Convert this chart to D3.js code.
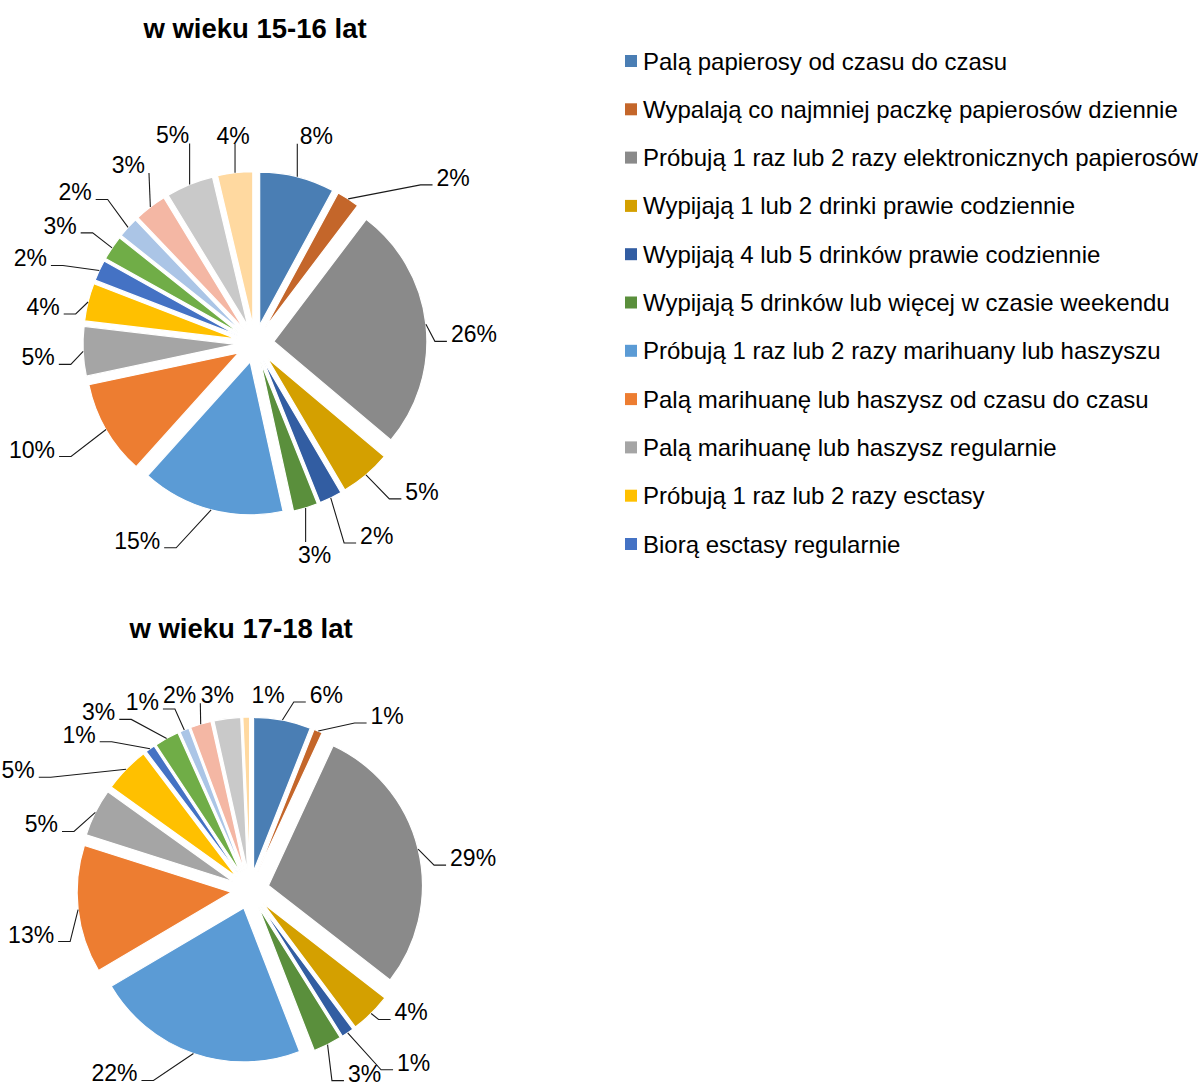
<!DOCTYPE html>
<html><head><meta charset="utf-8">
<script src="https://cdn.jsdelivr.net/npm/d3@7"></script>
<style>
body{margin:0;background:#fff}
svg{display:block}
text{font-family:"Liberation Sans",Arial,sans-serif;fill:#000}
</style>
</head><body>
<svg id="chart" width="1199" height="1086"></svg>
<script>
// ---- data ----
const categories = [
  "Palą papierosy od czasu do czasu",
  "Wypalają co najmniej paczkę papierosów dziennie",
  "Próbują 1 raz lub 2 razy elektronicznych papierosów",
  "Wypijają 1 lub 2 drinki prawie codziennie",
  "Wypijają 4 lub 5 drinków prawie codziennie",
  "Wypijają 5 drinków lub więcej w czasie weekendu",
  "Próbują 1 raz lub 2 razy marihuany lub haszyszu",
  "Palą marihuanę lub haszysz od czasu do czasu",
  "Palą marihuanę lub haszysz regularnie",
  "Próbują 1 raz lub 2 razy esctasy",
  "Biorą esctasy regularnie"
];
const titles = ["w wieku 15-16 lat", "w wieku 17-18 lat"];
const values1516 = [7.9, 2.4, 25.8, 5.4, 2.4, 2.6, 15.1, 10.0, 5.2, 4.0, 2.2, 2.6, 2.2, 3.4, 5.0, 3.7];
const values1718 = [6.0, 0.9, 28.6, 4.3, 1.3, 3.0, 22.4, 13.4, 5.0, 4.8, 1.0, 2.6, 1.0, 2.2, 2.8, 0.7];

// ---- styles / layout ----
const colors = ["#4A7EB4","#C4662A","#8A8A8A","#D4A000","#325DA2","#5A8F3C",
                "#5B9BD5","#ED7D31","#A5A5A5","#FFC000","#4472C4","#70AD47",
                "#ABC5E6","#F4B7A4","#C9C9C9","#FFD9A0"];
const pies = [
  { title: titles[0], values: values1516, cx: 255, cy: 343.5, r: 153, explode: 19, titleX: 255, titleY: 38,
    labelOffsets: [[19,-41],[105,-21],[48,10],[56,17],[46,38],[9,47],[-74,31],[-74,20],
                   [-45,6],[-45,5],[-69,-12],[-52,-22],[-53,-35],[-22,-42],[-17,-49],[-2,-37]],
    noLeader: [] },
  { title: titles[1], values: values1718, cx: 250, cy: 890, r: 154, explode: 19, titleX: 241, titleY: 638,
    labelOffsets: [[44,-25],[69,-15],[55,9],[40,-1],[66,30],[37,29],[-79,20],[-47,25],
                   [-54,12],[-108,1],[-71,-14],[-68,-26],[-42,-28],[-21,-29],[-10,-24],[22,-22]],
    noLeader: [14,15] }
];

const svg = d3.select("#chart");
const fmt = v => d3.format(".0f")(v) + "%";

pies.forEach(p => {
  const pie = d3.pie().sort(null).value(d => d);
  const arcs = pie(p.values);
  const arc = d3.arc().innerRadius(0).outerRadius(p.r);
  const g = svg.append("g").attr("transform", `translate(${p.cx},${p.cy})`);

  svg.append("text").attr("x", p.titleX).attr("y", p.titleY)
     .attr("text-anchor", "middle").style("font-weight", "bold").style("font-size", "27.5px")
     .text(p.title);

  arcs.forEach((a, i) => {
    const b = (a.startAngle + a.endAngle) / 2;
    const ox = p.explode * Math.sin(b), oy = -p.explode * Math.cos(b);
    g.append("path").attr("d", arc(a))
      .attr("transform", `translate(${ox},${oy})`)
      .attr("fill", colors[i]).attr("stroke", "#fff").attr("stroke-width", 1.2);
  });

  const lg = g.append("g");
  arcs.forEach((a, i) => {
    const b = (a.startAngle + a.endAngle) / 2;
    const R = p.r + p.explode;
    const ax = R * Math.sin(b), ay = -R * Math.cos(b);
    const lx = ax + p.labelOffsets[i][0], ly = ay + p.labelOffsets[i][1];
    const t = lg.append("text").attr("x", lx).attr("y", ly + 8)
      .attr("text-anchor", "middle").style("font-size", "23px").text(fmt(a.data));
    if (p.noLeader.includes(i)) return;
    const w = t.node().getComputedTextLength();
    const x0 = lx - w / 2, x1 = lx + w / 2;
    let pts;
    if (ax > x1 + 14) {
      pts = [[x1 + 4, ly + 7], [x1 + 16, ly + 7], [ax, ay]];
    } else if (ax < x0 - 14) {
      pts = [[x0 - 4, ly + 7], [x0 - 16, ly + 7], [ax, ay]];
    } else {
      const ex = Math.max(x0 - 4, Math.min(x1 + 4, ax));
      const ey = ay > ly ? ly + 8 : ly - 13;
      pts = [[ex, ey], [ax, ay]];
    }
    lg.append("path").attr("d", d3.line()(pts))
      .attr("fill", "none").attr("stroke", "#1a1a1a").attr("stroke-width", 1.1);
  });
});

// legend
const legend = svg.append("g");
const ly = d3.scalePoint().domain(categories).range([61, 544]);
categories.forEach((c, i) => {
  legend.append("rect").attr("x", 625).attr("y", ly(c) - 6).attr("width", 12).attr("height", 12)
        .attr("fill", colors[i]);
  legend.append("text").attr("x", 643).attr("y", ly(c) + 8.5).style("font-size", "24px").text(c);
});
</script>
</body></html>
